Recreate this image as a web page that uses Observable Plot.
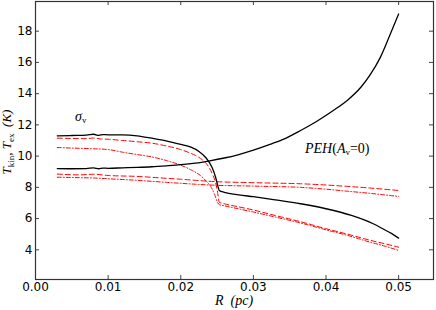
<!DOCTYPE html>
<html><head><meta charset="utf-8">
<script src="https://cdn.jsdelivr.net/npm/d3@7"></script>
<script src="https://cdn.jsdelivr.net/npm/@observablehq/plot@0.6"></script>
<style>body{margin:0;background:#fff} svg{display:block}</style>
</head><body><div id="chart"></div>
<script>
const xTicks = [0, 0.01, 0.02, 0.03, 0.04, 0.05];
const yTicks = [4, 6, 8, 10, 12, 14, 16, 18];

// black solid, starting high (sigma_v)
const rSigma = [0.003,0.005,0.007,0.008,0.0087,0.0093,0.010,0.012,0.014,0.016,0.018,0.020,0.0214,0.0225,0.0234,0.0243,0.0248,0.0251,0.0253,0.026,0.028,0.030,0.033,0.0365,0.040,0.0435,0.0465,0.048,0.049,0.050];
const tSigma = [11.3,11.32,11.34,11.4,11.33,11.38,11.36,11.36,11.3,11.15,10.98,10.75,10.57,10.3,9.93,9.29,8.65,8.1,7.8,7.68,7.52,7.4,7.2,6.95,6.63,6.2,5.67,5.3,5.05,4.75];
// black solid, PEH(Av=0)
const rPeh = [0.003,0.005,0.007,0.008,0.0087,0.0093,0.010,0.012,0.014,0.016,0.018,0.020,0.022,0.024,0.026,0.028,0.030,0.032,0.034,0.0365,0.0388,0.041,0.043,0.0448,0.046,0.0475,0.0488,0.050];
const tPeh = [9.2,9.19,9.2,9.25,9.19,9.23,9.22,9.25,9.28,9.32,9.38,9.45,9.55,9.7,9.88,10.1,10.38,10.7,11.05,11.64,12.25,12.92,13.6,14.41,15.15,16.34,17.75,19.1];
// red dashed, upper
const rDashA = [0.003,0.005,0.007,0.008,0.009,0.010,0.012,0.014,0.016,0.018,0.020,0.021,0.022,0.023,0.0238,0.0244,0.0248,0.0251,0.0253,0.026,0.028,0.030,0.033,0.0365,0.040,0.043,0.046,0.048,0.050];
const tDashA = [11.15,11.13,11.12,11.16,11.1,11.08,11.0,10.92,10.83,10.65,10.42,10.25,10.05,9.75,9.35,8.8,8.3,7.6,7.05,6.95,6.75,6.55,6.2,5.8,5.35,5.0,4.62,4.4,4.17];
// red dash-dot, upper
const rDotA = [0.003,0.006,0.008,0.010,0.012,0.014,0.016,0.018,0.020,0.0215,0.0227,0.0235,0.0242,0.0247,0.0251,0.0253,0.026,0.028,0.030,0.033,0.0365,0.040,0.043,0.046,0.048,0.050];
const tDotA = [10.55,10.5,10.47,10.42,10.25,10.1,9.95,9.72,9.42,9.1,8.76,8.4,8.0,7.5,7.0,6.9,6.82,6.62,6.42,6.1,5.72,5.28,4.92,4.5,4.25,3.96];
// red dashed, lower
const rDashB = [0.003,0.006,0.008,0.010,0.014,0.018,0.020,0.022,0.025,0.028,0.032,0.0365,0.040,0.043,0.046,0.048,0.050];
const tDashB = [8.85,8.8,8.84,8.76,8.7,8.58,8.52,8.45,8.36,8.32,8.28,8.23,8.15,8.06,7.96,7.88,7.8];
// red dash-dot, lower
const rDotB = [0.003,0.006,0.008,0.010,0.014,0.018,0.020,0.022,0.025,0.028,0.032,0.0365,0.040,0.043,0.046,0.048,0.050];
const tDotB = [8.65,8.62,8.6,8.55,8.45,8.32,8.26,8.2,8.13,8.1,8.06,8.0,7.88,7.75,7.62,7.52,7.42];

const rows = (rs, ts) => rs.map((r, i) => ({r, t: ts[i]}));

const W = 436, H = 310, mL = 35, mR = 3, mT = 1, mB = 31;
const pw = W - mL - mR, ph = H - mT - mB;
const tick = 4;
const ln = {x: "r", y: "t", curve: "monotone-x"};

const chart = Plot.plot({
  width: W, height: H,
  marginLeft: mL, marginRight: mR, marginTop: mT, marginBottom: mB,
  style: {background: "white", overflow: "visible"},
  x: {domain: [0, 0.0548]},
  y: {domain: [2.1, 19.9]},
  marks: [
    Plot.line(rows(rDashB, tDashB), {...ln, stroke: "red", strokeWidth: 1, strokeDasharray: "5,3"}),
    Plot.line(rows(rDotB, tDotB), {...ln, stroke: "red", strokeWidth: 1, strokeDasharray: "4,2,1,2"}),
    Plot.line(rows(rDashA, tDashA), {...ln, stroke: "red", strokeWidth: 1, strokeDasharray: "5,3"}),
    Plot.line(rows(rDotA, tDotA), {...ln, stroke: "red", strokeWidth: 1, strokeDasharray: "4,2,1,2"}),
    Plot.line(rows(rSigma, tSigma), {...ln, stroke: "black", strokeWidth: 1.3}),
    Plot.line(rows(rPeh, tPeh), {...ln, stroke: "black", strokeWidth: 1.3}),
    Plot.tickX(xTicks, {x: d => d, insetTop: ph - tick, stroke: "#444"}),
    Plot.tickX(xTicks, {x: d => d, insetBottom: ph - tick, stroke: "#444"}),
    Plot.tickY(yTicks, {y: d => d, insetRight: pw - tick, stroke: "#444"}),
    Plot.tickY(yTicks, {y: d => d, insetLeft: pw - tick, stroke: "#444"}),
    Plot.axisX(xTicks, {tickSize: 0, tickPadding: 3, tickFormat: d3.format(".2f"), fontSize: 12, fontFamily: "DejaVu Sans", fill: "black", label: null}),
    Plot.axisY(yTicks, {tickSize: 0, tickPadding: 3, fontSize: 12, fontFamily: "DejaVu Sans", fill: "black", label: null}),
    Plot.frame({stroke: "#333", strokeWidth: 1.2})
  ]
});
document.getElementById("chart").appendChild(chart);

const svg = d3.select(chart);
const serif = "'Liberation Serif', 'DejaVu Serif', serif";
// x label
const xl = svg.append("text").attr("x", mL + pw / 2).attr("y", 305)
  .attr("text-anchor", "middle").attr("font-family", serif).attr("font-size", 14).attr("font-style", "italic");
xl.append("tspan").text("R  ");
xl.append("tspan").text("(pc)");
// y label
const yl = svg.append("text").attr("transform", `translate(11,${mT + ph / 2 + 2}) rotate(-90)`)
  .attr("text-anchor", "middle").attr("font-family", serif).attr("font-size", 13);
yl.append("tspan").attr("font-style", "italic").text("T");
yl.append("tspan").attr("font-size", 9).attr("dy", 3).text("kin");
yl.append("tspan").attr("dy", -3).text(", ");
yl.append("tspan").attr("font-style", "italic").text("T");
yl.append("tspan").attr("font-size", 9).attr("dy", 3).text("ex");
yl.append("tspan").attr("dy", -3).attr("font-style", "italic").text("  (K)");
// sigma_v
const sv = svg.append("text").attr("x", 75).attr("y", 121).attr("text-anchor", "start")
  .attr("font-family", serif).attr("font-size", 14).attr("font-style", "italic");
sv.append("tspan").text("σ");
sv.append("tspan").attr("font-size", 9).attr("dy", 2).attr("font-style", "normal").text("v");
// PEH
const pe = svg.append("text").attr("x", 305).attr("y", 153).attr("text-anchor", "start")
  .attr("font-family", serif).attr("font-size", 14);
pe.append("tspan").attr("font-style", "italic").text("PEH");
pe.append("tspan").text("(");
pe.append("tspan").attr("font-style", "italic").text("A");
pe.append("tspan").attr("font-size", 9).attr("dy", 2).text("v");
pe.append("tspan").attr("dy", -2).text("=0)");
</script>
</body></html>
